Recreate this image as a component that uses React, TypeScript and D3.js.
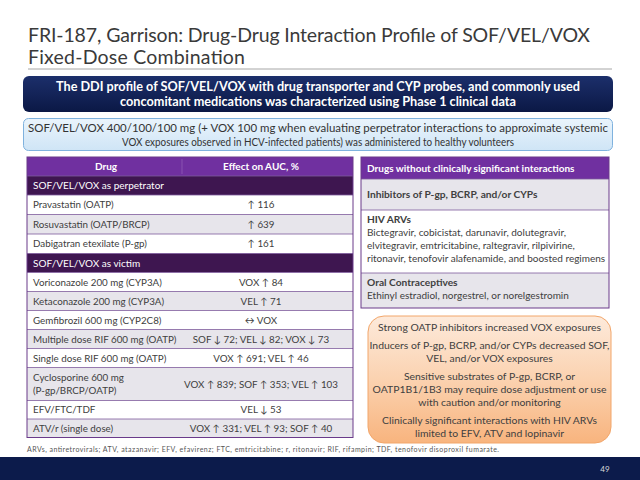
import React from "react";
import * as d3 from "d3";

const titleLines = [
  "FRI-187, Garrison: Drug-Drug Interaction Profile of SOF/VEL/VOX",
  "Fixed-Dose Combination",
];
const bannerLines = [
  "The DDI profile of SOF/VEL/VOX with drug transporter and CYP probes, and commonly used",
  "concomitant medications was characterized using Phase 1 clinical data",
];
const doseLines = [
  "SOF/VEL/VOX 400/100/100 mg (+ VOX 100 mg when evaluating perpetrator interactions to approximate systemic",
  "VOX exposures observed in HCV-infected patients) was administered to healthy volunteers",
];
const tableHeaders = ["Drug", "Effect on AUC, %"];
const sectionLabels = ["SOF/VEL/VOX as perpetrator", "SOF/VEL/VOX as victim"];
const perpetratorDrugs = [
  ["Pravastatin (OATP)"],
  ["Rosuvastatin (OATP/BRCP)"],
  ["Dabigatran etexilate (P-gp)"],
];
const perpetratorEffects = ["↑ 116", "↑ 639", "↑ 161"];
const victimDrugs = [
  ["Voriconazole 200 mg (CYP3A)"],
  ["Ketaconazole 200 mg (CYP3A)"],
  ["Gemfibrozil 600 mg (CYP2C8)"],
  ["Multiple dose RIF 600 mg (OATP)"],
  ["Single dose RIF 600 mg (OATP)"],
  ["Cyclosporine 600 mg", "(P-gp/BRCP/OATP)"],
  ["EFV/FTC/TDF"],
  ["ATV/r (single dose)"],
];
const victimEffects = [
  "VOX ↑ 84",
  "VEL ↑ 71",
  "↔ VOX",
  "SOF ↓ 72; VEL ↓ 82; VOX ↓ 73",
  "VOX ↑ 691; VEL ↑ 46",
  "VOX ↑ 839; SOF ↑ 353; VEL ↑ 103",
  "VEL ↓ 53",
  "VOX ↑ 331; VEL ↑ 93; SOF ↑ 40",
];
const rightHeader = "Drugs without clinically significant interactions";
const rightTitles = ["Inhibitors of P-gp, BCRP, and/or CYPs", "HIV ARVs", "Oral Contraceptives"];
const rightLines = [
  [],
  [
    "Bictegravir, cobicistat, darunavir, dolutegravir,",
    "elvitegravir, emtricitabine, raltegravir, rilpivirine,",
    "ritonavir, tenofovir alafenamide, and boosted regimens",
  ],
  ["Ethinyl estradiol, norgestrel, or norelgestromin"],
];
const takeaways = [
  ["Strong OATP inhibitors increased VOX exposures"],
  ["Inducers of P-gp, BCRP, and/or CYPs decreased SOF,", "VEL, and/or VOX exposures"],
  ["Sensitive substrates of P-gp, BCRP, or", "OATP1B1/1B3 may require dose adjustment or use", "with caution and/or monitoring"],
  ["Clinically significant interactions with HIV ARVs", "limited to EFV, ATV and lopinavir"],
];
const footnote =
  "ARVs, antiretrovirals; ATV, atazanavir; EFV, efavirenz; FTC, emtricitabine; r, ritonavir; RIF, rifampin; TDF, tenofovir disoproxil fumarate.";
const pageNumber = "49";

const FONT = "Lato, 'Open Sans', 'DejaVu Sans', sans-serif";
const PURPLE = "#7030a0";
const DARK_PURPLE = "#3e1650";
const GRAY_ROW = "#e7e5eb";
const TEXT = "#404040";
const NAVY = "#0c1b4b";

type Row = { kind: "header" | "section" | "data"; drug?: string[]; effect?: string; label?: string; h: number; shade?: boolean };

export default function App() {
  const rows: Row[] = [];
  rows.push({ kind: "header", h: 19 });
  rows.push({ kind: "section", label: sectionLabels[0], h: 19 });
  perpetratorDrugs.forEach((d, i) => rows.push({ kind: "data", drug: d, effect: perpetratorEffects[i], h: 19.5, shade: i % 2 === 1 }));
  rows.push({ kind: "section", label: sectionLabels[1], h: 19 });
  victimDrugs.forEach((d, i) =>
    rows.push({ kind: "data", drug: d, effect: victimEffects[i], h: d.length > 1 ? 33 : i >= 6 ? 18.5 : 19, shade: i % 2 === 1 })
  );
  const tableTop = 157;
  const ys = [tableTop, ...Array.from(d3.cumsum(rows.map((r) => r.h))).map((v) => tableTop + v)];
  const x0 = 27, x1 = 353, xDiv = 182;
  const colX = d3.scaleOrdinal<string, number>().domain(tableHeaders).range([106, 261]);

  const rTop = 157;
  const rHeights = [22, 31, 63, 35];
  const rYs = [rTop, ...Array.from(d3.cumsum(rHeights)).map((v) => rTop + v)];
  const rx0 = 361, rx1 = 609;

  const oTop = 316, oBottom = 443, ox0 = 368, ox1 = 611;
  const oCx = (ox0 + ox1) / 2;
  const lineGap = 13;
  const groupGap = 18;
  let ty = 331;
  const takeawayLines: { t: string; y: number }[] = [];
  takeaways.forEach((g, gi) => {
    g.forEach((t, li) => {
      takeawayLines.push({ t, y: ty });
      if (li < g.length - 1) ty += lineGap;
    });
    if (gi < takeaways.length - 1) ty += groupGap;
  });

  return (
    <svg
      width={640}
      height={480}
      viewBox="0 0 640 480"
      style={{ position: "fixed", left: 0, top: 0, background: "#fff" }}
      fontFamily={FONT}
    >
      <defs>
        <linearGradient id="navyGrad" x1="0" y1="0" x2="0" y2="1">
          <stop offset="0" stopColor="#1c2f6b" />
          <stop offset="1" stopColor="#0b1845" />
        </linearGradient>
        <linearGradient id="blueGrad" x1="0" y1="0" x2="0" y2="1">
          <stop offset="0" stopColor="#eaf4fc" />
          <stop offset="1" stopColor="#cfe5f6" />
        </linearGradient>
        <linearGradient id="orangeGrad" x1="0" y1="0" x2="0" y2="1">
          <stop offset="0" stopColor="#fdeadb" />
          <stop offset="0.5" stopColor="#fbd2b0" />
          <stop offset="1" stopColor="#f8b47e" />
        </linearGradient>
      </defs>
      <rect x={0} y={0} width={640} height={480} fill="#fff" />

      {/* Title */}
      {titleLines.map((t, i) => (
        <text key={i} x={28} y={42 + i * 22} fontSize={19.5} fontWeight={400} fill="#3a3a3a"
          textLength={i === 0 ? 562 : 217} lengthAdjust="spacing">
          {t}
        </text>
      ))}
      <line x1={28} x2={612} y1={69} y2={69} stroke="#a6a6a6" strokeWidth={1} />

      {/* Navy banner */}
      <rect x={23} y={76} width={590} height={36} rx={6} fill="url(#navyGrad)" />
      {bannerLines.map((t, i) => (
        <text key={i} x={318} y={91 + i * 15} fontSize={12.5} fontWeight="bold" fill="#fff" textAnchor="middle"
          textLength={i === 0 ? 524 : 396} lengthAdjust="spacingAndGlyphs">
          {t}
        </text>
      ))}

      {/* Dose box */}
      <rect x={23.5} y={118.5} width={589} height={32} rx={5} fill="url(#blueGrad)" stroke="#7fb2de" strokeWidth={1} />
      {doseLines.map((t, i) => (
        <text key={i} x={318} y={131.5 + i * 14} fontSize={11} fill="#333" textAnchor="middle"
          textLength={i === 0 ? 580 : 392} lengthAdjust="spacingAndGlyphs">
          {t}
        </text>
      ))}

      {/* Left table */}
      {rows.map((r, i) => {
        const y = ys[i];
        const fill = r.kind === "header" ? PURPLE : r.kind === "section" ? DARK_PURPLE : r.shade ? GRAY_ROW : "#fff";
        const cy = y + r.h / 2;
        return (
          <g key={i}>
            <rect x={x0} y={y} width={x1 - x0} height={r.h} fill={fill} />
            {r.kind === "header" && (
              <>
                {tableHeaders.map((h) => (
                  <text key={h} x={colX(h)} y={cy + 3.5} fontSize={10} fontWeight="bold" fill="#fff" textAnchor="middle">
                    {h}
                  </text>
                ))}
                <line x1={xDiv} x2={xDiv} y1={y + 2} y2={y + r.h - 2} stroke="#8f5bb5" strokeWidth={0.8} />
              </>
            )}
            {r.kind === "section" && (
              <text x={x0 + 6} y={cy + 3.5} fontSize={10} fill="#fff">
                {r.label}
              </text>
            )}
            {r.kind === "data" && (
              <>
                {r.drug!.map((d, k) => (
                  <text key={k} x={x0 + 6} y={cy + 3.5 + (k - (r.drug!.length - 1) / 2) * 13} fontSize={9.8} fill={TEXT}>
                    {d}
                  </text>
                ))}
                <text x={colX(tableHeaders[1])} y={cy + 3.5} fontSize={9.8} fill={TEXT} textAnchor="middle">
                  {r.effect}
                </text>
              </>
            )}
            {i > 0 && <line x1={x0} x2={x1} y1={y} y2={y} stroke="#7d5a9c" strokeWidth={0.8} />}
          </g>
        );
      })}
      <rect x={x0} y={tableTop} width={x1 - x0} height={ys[ys.length - 1] - tableTop} fill="none" stroke="#6a3a8a" strokeWidth={1} />

      {/* Right panel */}
      {rHeights.map((h, i) => {
        const y = rYs[i];
        const fill = i === 0 ? PURPLE : i % 2 === 1 ? GRAY_ROW : "#fff";
        return (
          <g key={i}>
            <rect x={rx0} y={y} width={rx1 - rx0} height={h} fill={fill} />
            {i > 0 && <line x1={rx0} x2={rx1} y1={y} y2={y} stroke="#7d5a9c" strokeWidth={0.8} />}
          </g>
        );
      })}
      <text x={rx0 + 6} y={rYs[0] + 15} fontSize={10} fontWeight="bold" fill="#fff">
        {rightHeader}
      </text>
      {rightTitles.map((t, i) => {
        const y = rYs[i + 1];
        const h = rHeights[i + 1];
        const n = rightLines[i].length;
        const firstY = n === 0 ? y + h / 2 + 3.5 : y + 13;
        return (
          <g key={i}>
            <text x={rx0 + 6} y={firstY} fontSize={10.2} fontWeight="bold" fill={TEXT}>
              {t}
            </text>
            {rightLines[i].map((l, k) => (
              <text key={k} x={rx0 + 6} y={firstY + 13 * (k + 1)} fontSize={10} fill={TEXT}>
                {l}
              </text>
            ))}
          </g>
        );
      })}
      <rect x={rx0} y={rTop} width={rx1 - rx0} height={rYs[rYs.length - 1] - rTop} fill="none" stroke="#6a3a8a" strokeWidth={1} />

      {/* Orange takeaways */}
      <rect x={ox0} y={oTop} width={ox1 - ox0} height={oBottom - oTop} rx={16} fill="url(#orangeGrad)" stroke="#f2a66a" strokeWidth={1} />
      {takeawayLines.map((l, i) => (
        <text key={i} x={oCx} y={l.y} fontSize={10.4} fill={TEXT} textAnchor="middle">
          {l.t}
        </text>
      ))}

      {/* Footnote */}
      <text x={27} y={452} fontSize={7} fill="#555" textLength={472} lengthAdjust="spacing">
        {footnote}
      </text>

      {/* Footer */}
      <rect x={0} y={457} width={640} height={23} fill={NAVY} />
      <text x={605} y={472} fontSize={8} fill="#d9d9d9" textAnchor="middle">
        {pageNumber}
      </text>
    </svg>
  );
}
